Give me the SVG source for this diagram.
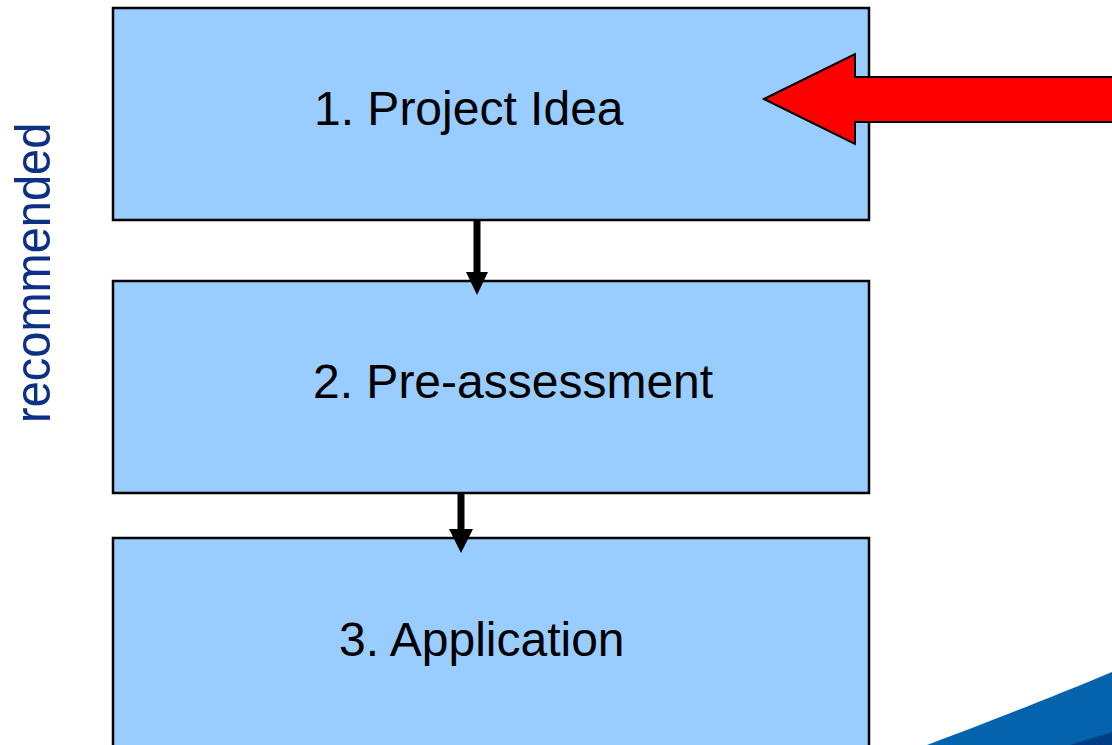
<svg xmlns="http://www.w3.org/2000/svg" width="1112" height="745" viewBox="0 0 1112 745">
<style>
.box{fill:#99ccff;stroke:#000;stroke-width:2.5}
.lbl{font-family:"Liberation Sans",Arial,sans-serif;font-size:48px;fill:#000}
.side{font-family:"Liberation Sans",Arial,sans-serif;font-size:47px;fill:#0b3086}
.shaft{stroke:#000;stroke-width:7;fill:none}
.head{fill:#000}
</style>
<rect width="1112" height="745" fill="#fff"/>
<g id="swoosh">
<path d="M927,745 C975,727 1040,702 1112,672 L1112,745 Z" fill="#0563ae"/>
<path d="M1070,745 C1085,740 1100,736 1112,732 L1112,745 Z" fill="#003f85"/>
</g>
<g id="side-label">
<text class="side" transform="translate(50,423) rotate(-90) scale(1,1.05)">recommended</text>
</g>
<g id="node1">
<rect class="box" x="113" y="8" width="756" height="212"/>
<text class="lbl" x="314" y="125">1. Project Idea</text>
</g>
<g id="node2">
<rect class="box" x="113" y="281" width="756" height="212"/>
<text class="lbl" x="313" y="398">2. Pre-assessment</text>
</g>
<g id="node3">
<rect class="box" x="113" y="538" width="756" height="240"/>
<text class="lbl" x="339" y="656">3. Application</text>
</g>
<g id="connectors">
<line class="shaft" x1="477" y1="221" x2="477" y2="274"/>
<polygon class="head" points="466,272 488,272 477,295"/>
<line class="shaft" x1="461" y1="494" x2="461" y2="531"/>
<polygon class="head" points="449,529 473,529 461,553"/>
<polygon points="1114,77 855,77 855,54 764,99 855,144 855,122 1114,122" fill="#ff0000" stroke="#000" stroke-width="2" stroke-linejoin="miter"/>
</g>
</svg>
